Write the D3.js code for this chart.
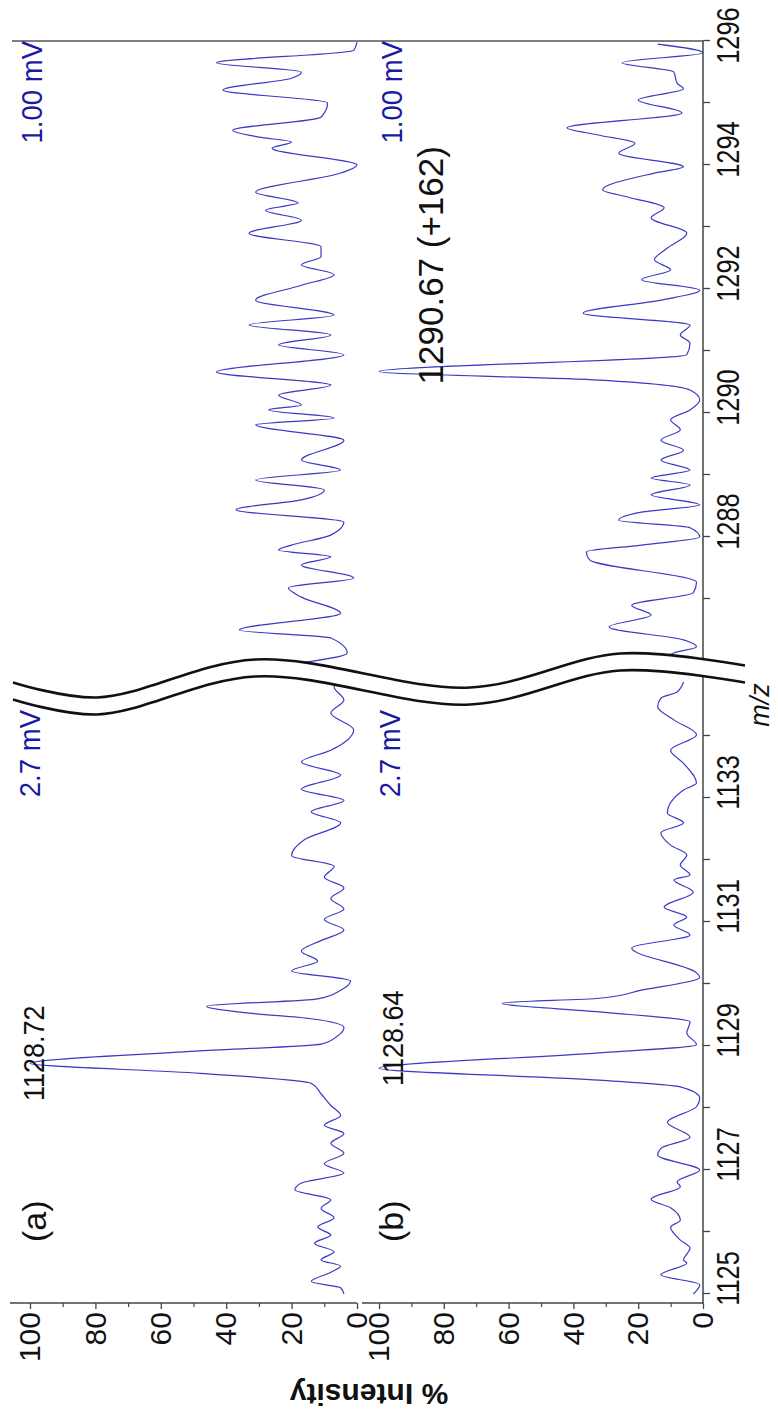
<!DOCTYPE html>
<html lang="en">
<head>
<meta charset="UTF-8">
<title>m/z spectra</title>
<script src="https://cdn.jsdelivr.net/npm/d3@7/dist/d3.min.js"></script>
<style>
    body { margin: 0; background: #fff; }
    svg { display: block; font-family: "Liberation Sans", Arial, sans-serif; }
</style>
</head>
<body>
<svg id="chart" width="778" height="1416"></svg>
<script>
// spectra as [m/z, % intensity]
var traceA_low = [[1125.0,4],[1125.1,5],[1125.2,14],[1125.35,8],[1125.45,5],[1125.55,11],[1125.68,7],[1125.82,13],[1125.95,8],[1126.08,12],[1126.23,7],[1126.38,11],[1126.52,8],[1126.68,19],[1126.79,17],[1126.95,4],[1127.1,10],[1127.27,4],[1127.43,8],[1127.59,4],[1127.72,10],[1127.88,5],[1128.04,8],[1128.23,11],[1128.4,14],[1128.56,48],[1128.72,100],[1128.92,48],[1129.03,11],[1129.16,6],[1129.3,4],[1129.44,14],[1129.53,33],[1129.64,46],[1129.76,12],[1129.9,5],[1130.05,2],[1130.21,20],[1130.37,12],[1130.53,17],[1130.7,11],[1130.87,4],[1131.04,10],[1131.21,4],[1131.38,8],[1131.55,4],[1131.72,10],[1131.9,7],[1132.07,20],[1132.33,16],[1132.6,5],[1132.78,14],[1132.96,4],[1133.14,17],[1133.37,5],[1133.58,17],[1133.77,8],[1133.89,4],[1134.1,1],[1134.37,8],[1134.58,4],[1134.79,7],[1134.9,5]];
var traceA_high = [[1285.98,16],[1286.13,3],[1286.37,8],[1286.5,36],[1286.77,5],[1287.03,17],[1287.18,21],[1287.34,1],[1287.55,17],[1287.68,8],[1287.79,24],[1287.87,20],[1288.03,8],[1288.24,4],[1288.44,37],[1288.6,17],[1288.76,10],[1288.92,31],[1289.08,5],[1289.24,17],[1289.56,4],[1289.81,31],[1289.92,7],[1290.05,27],[1290.13,17],[1290.29,24],[1290.45,8],[1290.66,43],[1290.94,4],[1291.1,24],[1291.26,8],[1291.42,33],[1291.58,7],[1291.82,31],[1292.06,17],[1292.23,7],[1292.39,17],[1292.52,11],[1292.68,11],[1292.9,33],[1293.11,17],[1293.27,28],[1293.39,18],[1293.56,31],[1293.87,5],[1294.0,0],[1294.27,26],[1294.37,20],[1294.45,30],[1294.56,38],[1294.77,11],[1295.0,9],[1295.21,41],[1295.4,20],[1295.5,17],[1295.65,43],[1295.85,1],[1295.98,0]];
var traceB_low = [[1125.0,3],[1125.15,1],[1125.31,13],[1125.5,5],[1125.55,6],[1125.74,4],[1125.87,7],[1126.08,10],[1126.19,7],[1126.39,10],[1126.53,16],[1126.73,7],[1126.81,8],[1127.0,1],[1127.24,14],[1127.35,13],[1127.53,4],[1127.77,11],[1128.02,2],[1128.16,1],[1128.34,7],[1128.45,32],[1128.64,100],[1128.89,32],[1129.02,2],[1129.21,5],[1129.39,4],[1129.55,32],[1129.69,62],[1129.77,32],[1129.9,19],[1130.11,1],[1130.18,2],[1130.58,22],[1130.79,4],[1130.95,9],[1131.08,5],[1131.24,12],[1131.48,3],[1131.68,9],[1131.76,4],[1131.92,7],[1132.08,5],[1132.24,10],[1132.44,13],[1132.6,6],[1132.76,11],[1133.13,6],[1133.24,2],[1133.56,6],[1133.77,10],[1134.02,2],[1134.26,9],[1134.47,14],[1134.61,13],[1134.71,8],[1134.87,6]];
var traceB_high = [[1285.98,13],[1286.13,9],[1286.23,2],[1286.34,6],[1286.55,29],[1286.74,16],[1286.9,22],[1287.1,3],[1287.27,2],[1287.63,35],[1287.76,36],[1287.87,19],[1288.0,1],[1288.15,4],[1288.27,26],[1288.4,19],[1288.52,1],[1288.68,16],[1288.84,4],[1288.95,16],[1289.08,4],[1289.24,13],[1289.4,6],[1289.56,13],[1289.73,7],[1289.89,10],[1290.05,4],[1290.21,1],[1290.37,4],[1290.53,32],[1290.67,100],[1290.94,5],[1291.13,4],[1291.26,7],[1291.42,4],[1291.61,37],[1291.82,13],[1291.98,1],[1292.15,19],[1292.31,10],[1292.47,15],[1292.66,11],[1292.9,5],[1293.15,16],[1293.31,12],[1293.48,23],[1293.6,31],[1293.87,15],[1293.97,6],[1294.19,26],[1294.35,21],[1294.48,32],[1294.6,42],[1294.84,6.5],[1295.05,20],[1295.23,6],[1295.32,8],[1295.5,9],[1295.65,25],[1295.81,0],[1295.95,14]];

var mzTicksLow = [1125, 1126, 1127, 1128, 1129, 1130, 1131, 1132, 1133, 1134];
var mzLabelsLow = [1125, 1127, 1129, 1131, 1133];
var mzTicksHigh = [1287, 1288, 1289, 1290, 1291, 1292, 1293, 1294, 1295, 1296];
var mzLabelsHigh = [1288, 1290, 1292, 1294, 1296];
var intMajor = [0, 20, 40, 60, 80, 100];
var intMinor = [10, 30, 50, 70, 90];

var panelLabels = ["(a)", "(b)"];
var peakLabels = ["1128.72", "1128.64"];
var scaleLabelsLow = ["2.7 mV", "2.7 mV"];
var scaleLabelsHigh = ["1.00 mV", "1.00 mV"];
var extraLabel = "1290.67 (+162)";

// the chart is laid out in landscape, then turned a quarter turn
var W = 1416, H = 778;
var traceColor = "#3a3ac4", mvColor = "#1a1aa0";
var svg = d3.select("#chart");
var g = svg.append("g").attr("transform", "translate(0," + W + ") rotate(-90)");

var xLow = d3.scaleLinear().domain([1125, 1135]).range([122, 742]);
var xHigh = d3.scaleLinear().domain([1286, 1296]).range([755, 1375]);
var yA = d3.scaleLinear().domain([0, 100]).range([357, 30]);
var yB = d3.scaleLinear().domain([0, 100]).range([703, 379]);
var axisX = 113, axisY = 703;

function sorted(arr) {
    return arr.slice().sort(function (a, b) { return a[0] - b[0]; });
}
function drawTrace(data, x, y) {
    var line = d3.line()
        .x(function (d) { return x(d[0]); })
        .y(function (d) { return y(d[1]); })
        .curve(d3.curveMonotoneX);
    g.append("path")
        .attr("d", line(sorted(data)))
        .attr("fill", "none")
        .attr("stroke", traceColor)
        .attr("stroke-width", 1.2);
}
drawTrace(traceA_low, xLow, yA);
drawTrace(traceA_high, xHigh, yA);
drawTrace(traceB_low, xLow, yB);
drawTrace(traceB_high, xHigh, yB);

// frame: right border and m/z axis line
g.append("line").attr("x1", xHigh(1296)).attr("x2", xHigh(1296))
    .attr("y1", 12).attr("y2", axisY)
    .attr("stroke", "#555").attr("stroke-width", 1.5);
g.append("line").attr("x1", axisX).attr("x2", xHigh(1296))
    .attr("y1", axisY).attr("y2", axisY)
    .attr("stroke", "#444").attr("stroke-width", 1.5);

// m/z axes
function mzAxis(x, ticks, labels) {
    var last = x.domain()[1];
    var ax = g.append("g")
        .attr("transform", "translate(0," + axisY + ")")
        .call(d3.axisBottom(x).tickValues(ticks).tickSize(7).tickPadding(7)
            .tickFormat(function (d) { return labels.indexOf(d) >= 0 ? d : ""; }));
    ax.select(".domain").remove();
    ax.selectAll("line").attr("stroke", "#444").attr("stroke-width", 1.3);
    ax.selectAll("text")
        .attr("font-size", 31)
        .attr("fill", "#111")
        .attr("font-family", "Liberation Sans, Arial, sans-serif")
        .attr("transform", function (d) {
            // labels sit a little past their ticks; the end one is kept inside
            return "translate(" + (d === last ? 5 : 15) + ",0) scale(0.82,1)";
        });
}
mzAxis(xLow, mzTicksLow, mzLabelsLow);
mzAxis(xHigh, mzTicksHigh, mzLabelsHigh);

// intensity axes (one per panel)
function intAxis(y, from, to) {
    g.append("line").attr("x1", axisX).attr("x2", axisX)
        .attr("y1", from).attr("y2", to)
        .attr("stroke", "#444").attr("stroke-width", 1.5);
    var major = g.append("g").attr("transform", "translate(" + axisX + ",0)")
        .call(d3.axisLeft(y).tickValues(intMajor).tickSize(6).tickPadding(3));
    major.select(".domain").remove();
    major.selectAll("line").attr("stroke", "#444").attr("stroke-width", 1.3);
    major.selectAll("text")
        .attr("font-size", 30)
        .attr("fill", "#111")
        .attr("font-family", "Liberation Sans, Arial, sans-serif");
    var minor = g.append("g").attr("transform", "translate(" + axisX + ",0)")
        .call(d3.axisLeft(y).tickValues(intMinor).tickSize(4).tickFormat(""));
    minor.select(".domain").remove();
    minor.selectAll("line").attr("stroke", "#444").attr("stroke-width", 1.2);
}
intAxis(yA, 10, 357);
intAxis(yB, 362, axisY);

// axis titles
g.append("text")
    .attr("transform", "translate(32,369) rotate(-90)")
    .attr("text-anchor", "middle")
    .attr("font-size", 30).attr("font-weight", "bold").attr("fill", "#111")
    .text("% Intensity");
g.append("text")
    .attr("x", 711).attr("y", 769)
    .attr("text-anchor", "middle")
    .attr("font-size", 27).attr("font-style", "italic").attr("fill", "#111")
    .text("m/z");

// axis break
var gapMid = (xLow(1135) + xHigh(1286)) / 2;
var breakWave = [[-15, 13], [-30, 97], [8, 255], [-20, 470], [14, 620], [2, 745]];
var breakGap = 17;
g.append("path")
    .attr("d", d3.area()
        .y(function (d) { return d[1]; })
        .x0(function (d) { return gapMid + d[0] - breakGap; })
        .x1(function (d) { return gapMid + d[0]; })
        .curve(d3.curveCatmullRom)(breakWave))
    .attr("fill", "#fff");
[0, breakGap].forEach(function (off) {
    g.append("path")
        .attr("d", d3.line()
            .x(function (d) { return gapMid + d[0] - off; })
            .y(function (d) { return d[1]; })
            .curve(d3.curveCatmullRom)(breakWave))
        .attr("fill", "none")
        .attr("stroke", "#111")
        .attr("stroke-width", 2.6);
});

// labels
function label(txt, x, y, opts) {
    return g.append("text")
        .attr("transform", "translate(" + x + "," + y + ") scale(" + (opts.sx || 1) + ",1)")
        .attr("text-anchor", opts.anchor || "start")
        .attr("font-size", opts.size || 28)
        .attr("fill", opts.color || "#111")
        .text(txt);
}
label(panelLabels[0], 174, 46, {size: 34});
label(panelLabels[1], 174, 403, {size: 34});
label(peakLabels[0], xLow(1128.72) + 10, 44, {anchor: "middle", size: 30, sx: 0.9});
label(peakLabels[1], xLow(1128.64) + 30, 403, {anchor: "middle", size: 30, sx: 0.9});
label(extraLabel, xHigh(1290.67) - 13, 443, {size: 35});
label(scaleLabelsHigh[0], xHigh(1296), 42, {anchor: "end", size: 29, color: mvColor, sx: 0.95});
label(scaleLabelsHigh[1], xHigh(1296), 402, {anchor: "end", size: 29, color: mvColor, sx: 0.95});
label(scaleLabelsLow[0], 706, 40, {anchor: "end", size: 29, color: mvColor, sx: 0.95});
label(scaleLabelsLow[1], 706, 400, {anchor: "end", size: 29, color: mvColor, sx: 0.95});
</script>
</body>
</html>
